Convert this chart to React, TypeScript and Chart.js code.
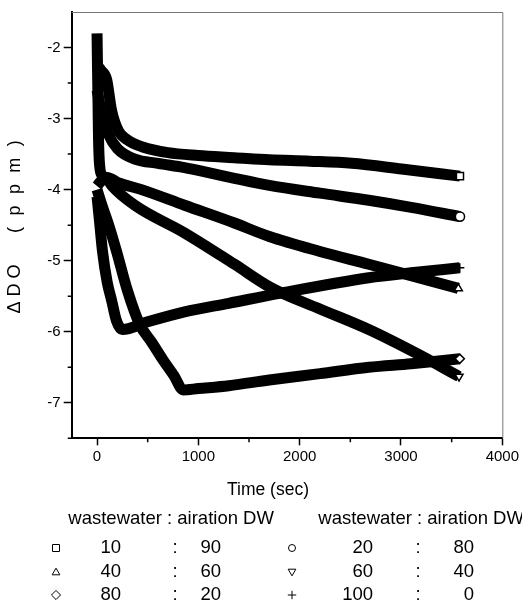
import React, { useEffect, useRef } from "react";
import { Chart, registerables } from "chart.js";

Chart.register(...registerables);

// ---- data ----
const wastewater = [10, 20, 40, 60, 80, 100];
const aeration = [90, 80, 60, 40, 20, 0];

const timeSq = [0, 40, 95, 144, 210, 300, 450, 700, 1000, 1356, 1700, 2100, 2515, 3006, 3582];
const doSq = [-2.25, -2.32, -2.45, -2.89, -3.17, -3.3, -3.4, -3.48, -3.52, -3.55, -3.58, -3.6, -3.63, -3.71, -3.81];

const timeCi = [0, 50, 111, 200, 373, 600, 864, 1100, 1356, 1700, 2200, 2682, 3100, 3582];
const doCi = [-2.6, -2.95, -3.22, -3.42, -3.57, -3.63, -3.69, -3.76, -3.84, -3.94, -4.05, -4.15, -4.25, -4.38];

const timeTu = [0, 40, 100, 206, 439, 864, 1356, 1700, 2200, 2682, 3100, 3566];
const doTu = [-3.95, -3.88, -3.83, -3.9, -4.0, -4.22, -4.47, -4.66, -4.87, -5.05, -5.21, -5.39];

const timeTd = [0, 5, 10, 15, 25, 50, 100, 150, 373, 864, 1356, 1716, 2200, 2682, 3173, 3573];
const doTd = [-1.8, -2.3, -2.8, -3.3, -3.65, -3.8, -3.85, -3.95, -4.22, -4.61, -5.05, -5.38, -5.68, -5.97, -6.32, -6.63];

const timeDi = [0, 46, 120, 193, 300, 422, 540, 648, 760, 850, 1000, 1300, 1700, 2200, 2682, 3100, 3580];
const doDi = [-4.0, -4.21, -4.52, -4.87, -5.42, -5.9, -6.15, -6.39, -6.62, -6.82, -6.8, -6.76, -6.68, -6.59, -6.5, -6.45, -6.38];

const timePl = [0, 25, 54, 100, 144, 193, 250, 500, 864, 1300, 1800, 2682, 3100, 3580];
const doPl = [-4.1, -4.45, -4.87, -5.3, -5.56, -5.85, -5.97, -5.86, -5.72, -5.6, -5.46, -5.24, -5.17, -5.1];

const xTicks = [0, 1000, 2000, 3000, 4000];
const xMinor = [500, 1500, 2500, 3500];
const yTicks = [-7, -6, -5, -4, -3, -2];
const yMinor = [-7.5, -6.5, -5.5, -4.5, -3.5, -2.5];

const seriesTimes = [timeSq, timeCi, timeTu, timeTd, timeDi, timePl];
const seriesDO = [doSq, doCi, doTu, doTd, doDi, doPl];
const markers = ["rect", "circle", "triangle", "triangleDown", "rectRot", "cross"];

const FONT = '"Liberation Sans", Arial, sans-serif';

function drawMarker(ctx: CanvasRenderingContext2D, kind: string, x: number, y: number, r: number) {
  ctx.beginPath();
  if (kind === "rect") {
    ctx.rect(x - r, y - r, 2 * r, 2 * r);
  } else if (kind === "circle") {
    ctx.arc(x, y, r, 0, Math.PI * 2);
  } else if (kind === "triangle") {
    ctx.moveTo(x, y - r * 1.1);
    ctx.lineTo(x + r * 1.1, y + r * 0.8);
    ctx.lineTo(x - r * 1.1, y + r * 0.8);
    ctx.closePath();
  } else if (kind === "triangleDown") {
    ctx.moveTo(x, y + r * 1.1);
    ctx.lineTo(x + r * 1.1, y - r * 0.8);
    ctx.lineTo(x - r * 1.1, y - r * 0.8);
    ctx.closePath();
  } else if (kind === "rectRot") {
    ctx.moveTo(x, y - r * 1.3);
    ctx.lineTo(x + r * 1.3, y);
    ctx.lineTo(x, y + r * 1.3);
    ctx.lineTo(x - r * 1.3, y);
    ctx.closePath();
  } else {
    ctx.moveTo(x - r * 1.2, y);
    ctx.lineTo(x + r * 1.2, y);
    ctx.moveTo(x, y - r * 1.2);
    ctx.lineTo(x, y + r * 1.2);
  }
  ctx.stroke();
}

const decorPlugin = {
  id: "decor",
  afterDraw(chart: any) {
    const { ctx, chartArea, scales } = chart;
    const xs = scales.x;
    const ys = scales.y;
    ctx.save();
    // frame top/right
    ctx.strokeStyle = "#777";
    ctx.lineWidth = 1;
    ctx.beginPath();
    ctx.moveTo(chartArea.left, chartArea.top + 0.5);
    ctx.lineTo(chartArea.right + 0.5, chartArea.top + 0.5);
    ctx.lineTo(chartArea.right + 0.5, chartArea.bottom);
    ctx.stroke();
    // minor ticks
    ctx.strokeStyle = "#000";
    ctx.lineWidth = 1.5;
    ctx.beginPath();
    for (const v of xMinor) {
      const p = xs.getPixelForValue(v);
      ctx.moveTo(p, chartArea.bottom);
      ctx.lineTo(p, chartArea.bottom + 4);
    }
    for (const v of yMinor) {
      const p = ys.getPixelForValue(v);
      ctx.moveTo(chartArea.left, p);
      ctx.lineTo(chartArea.left - 4, p);
    }
    ctx.stroke();

    // axis titles
    ctx.fillStyle = "#000";
    ctx.textAlign = "center";
    ctx.textBaseline = "middle";
    ctx.font = `17.5px ${FONT}`;
    ctx.fillText("Time (sec)", 268, 490);

    ctx.save();
    ctx.translate(15.5, 0);
    ctx.rotate(-Math.PI / 2);
    ctx.font = `18px ${FONT}`;
    ctx.fillText("Δ D O", -289, 0);
    (ctx as any).letterSpacing = "3.2px";
    ctx.fillText("( p p m )", -185, 0);
    ctx.restore();

    // legend
    ctx.font = `18.5px ${FONT}`;
    ctx.textAlign = "left";
    ctx.fillText("wastewater : airation DW", 68.3, 519);
    ctx.fillText("wastewater : airation DW", 318.3, 519);
    const rowsY = [548, 572, 595];
    const cols = [
      { sym: 56, n1: 121, colon: 175, n2: 221 },
      { sym: 292, n1: 373, colon: 418, n2: 474 },
    ];
    ctx.lineWidth = 1;
    ctx.strokeStyle = "#000";
    for (let i = 0; i < wastewater.length; i++) {
      const row = Math.floor(i / 2);
      const c = cols[i % 2];
      const y = rowsY[row];
      drawMarker(ctx, markers[i], c.sym, y, 3.5);
      ctx.textAlign = "right";
      ctx.fillText(String(wastewater[i]), c.n1, y);
      ctx.fillText(String(aeration[i]), c.n2, y);
      ctx.textAlign = "center";
      ctx.fillText(":", c.colon, y);
    }
    ctx.restore();
  },
};

export default function App() {
  const ref = useRef<HTMLCanvasElement | null>(null);
  useEffect(() => {
    document.body.style.margin = "0";
    const canvas = ref.current;
    if (!canvas) return;
    Chart.defaults.font.family = FONT;
    Chart.defaults.color = "#000";

    const datasets = seriesTimes.map((times, si) => {
      const vals = seriesDO[si];
      const n = times.length;
      const kind = markers[si];
      const style = kind === "triangleDown" ? "triangle" : kind;
      return {
        label: `${wastewater[si]}:${aeration[si]}`,
        data: times.map((t, i) => ({ x: t, y: vals[i] })),
        borderColor: "#000",
        borderWidth: 11,
        borderCapStyle: "butt",
        borderJoinStyle: "round",
        cubicInterpolationMode: "monotone",
        fill: false,
        pointStyle: style,
        pointRotation: kind === "triangleDown" ? 180 : 0,
        pointRadius: (c: any) => (c.dataIndex === n - 1 ? (kind === "rect" ? 5 : 4.6) : 0),
        pointBackgroundColor: "#fff",
        pointBorderColor: "#000",
        pointBorderWidth: 1.5,
        pointHoverRadius: 0,
      };
    });

    const chart = new Chart(canvas, {
      type: "line",
      data: { datasets: datasets as any },
      plugins: [decorPlugin],
      options: {
        animation: false,
        responsive: true,
        maintainAspectRatio: false,
        events: [],
        layout: { padding: { top: 7.7, right: 17.8, bottom: 138.7, left: 0 } },
        plugins: { legend: { display: false }, tooltip: { enabled: false }, title: { display: false } },
        scales: {
          x: {
            type: "linear",
            min: -250,
            max: 4000,
            afterBuildTicks: (s: any) => {
              s.ticks = xTicks.map((v) => ({ value: v }));
            },
            afterFit: (s: any) => {
              s.height = 30;
            },
            ticks: {
              callback: (v: any) => String(v),
              font: { size: 15, family: FONT },
              color: "#000",
              padding: 3,
              maxRotation: 0,
              autoSkip: false,
            },
            grid: {
              display: true,
              drawOnChartArea: false,
              drawTicks: true,
              tickLength: 7,
              tickWidth: 1.5,
              tickColor: "#000",
            },
            border: { display: true, color: "#000", width: 2 },
          },
          y: {
            type: "linear",
            min: -7.5,
            max: -1.5,
            afterBuildTicks: (s: any) => {
              s.ticks = yTicks.map((v) => ({ value: v }));
            },
            afterFit: (s: any) => {
              s.width = 71.7;
            },
            ticks: {
              callback: (v: any) => String(v),
              font: { size: 15, family: FONT },
              color: "#000",
              padding: 3,
              autoSkip: false,
            },
            grid: {
              display: true,
              drawOnChartArea: false,
              drawTicks: true,
              tickLength: 8,
              tickWidth: 1.5,
              tickColor: "#000",
            },
            border: { display: true, color: "#000", width: 2 },
          },
        },
      },
    });
    return () => chart.destroy();
  }, []);

  return (
    <div style={{ position: "relative", width: 522, height: 607, background: "#fff" }}>
      <canvas ref={ref} />
    </div>
  );
}
